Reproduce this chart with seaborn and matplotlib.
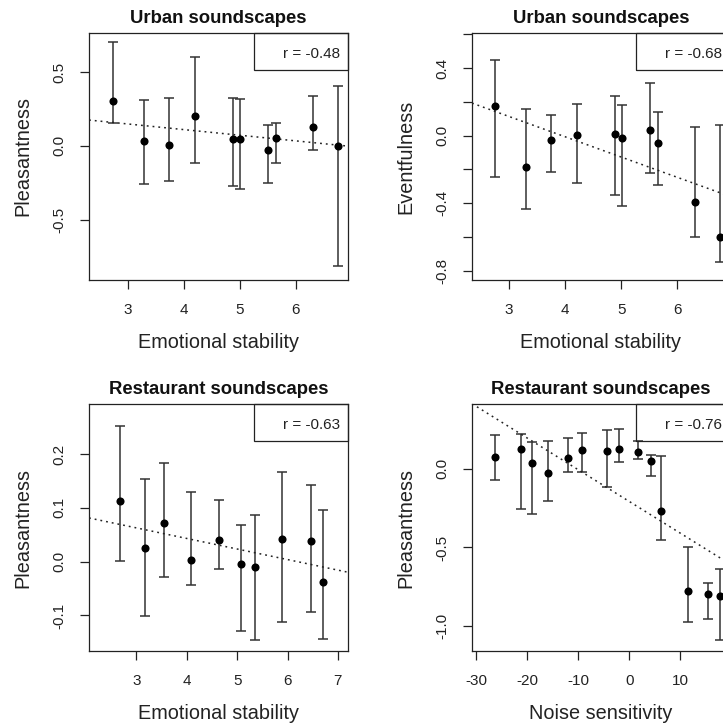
import numpy as np
import pandas as pd
import matplotlib
matplotlib.use("Agg")
import matplotlib.pyplot as plt
from matplotlib.patches import Rectangle
import seaborn as sns

# ---------------- data ----------------
# Urban soundscapes vs emotional stability
urban_es_x = [2.74, 3.29, 3.74, 4.20, 4.88, 5.00, 5.50, 5.64, 6.30, 6.75]
urban_pleas_y = [0.307, 0.032, 0.007, 0.202, 0.050, 0.050, -0.030, 0.055, 0.125, 0.000]
urban_pleas_lo = [0.152, -0.257, -0.241, -0.114, -0.270, -0.295, -0.250, -0.116, -0.030, -0.818]
urban_pleas_hi = [0.705, 0.310, 0.323, 0.602, 0.325, 0.316, 0.141, 0.152, 0.341, 0.407]

urban_es_x2 = [2.756, 3.30, 3.755, 4.21, 4.895, 5.01, 5.51, 5.66, 6.31, 6.77]
urban_event_y = [0.177, -0.189, -0.026, 0.004, 0.008, -0.016, 0.035, -0.047, -0.396, -0.603]
urban_event_lo = [-0.248, -0.437, -0.215, -0.282, -0.353, -0.418, -0.219, -0.292, -0.603, -0.751]
urban_event_hi = [0.449, 0.160, 0.124, 0.187, 0.236, 0.183, 0.311, 0.142, 0.049, 0.061]

# Restaurant soundscapes vs emotional stability
rest_es_x = [2.683, 3.172, 3.549, 4.09, 4.636, 5.076, 5.354, 5.90, 6.458, 6.709]
rest_pleas_y = [0.113, 0.025, 0.072, 0.003, 0.040, -0.004, -0.009, 0.042, 0.038, -0.038]
rest_pleas_lo = [0.001, -0.101, -0.029, -0.043, -0.014, -0.129, -0.145, -0.113, -0.093, -0.143]
rest_pleas_hi = [0.252, 0.154, 0.183, 0.129, 0.114, 0.069, 0.087, 0.166, 0.143, 0.096]

# Restaurant soundscapes vs noise sensitivity
rest_ns_x = [-26.36, -21.14, -19.12, -15.86, -11.94, -9.20, -4.37, -2.02, 1.76, 4.24,
             6.26, 11.55, 15.33, 17.75]
rest_ns_y = [0.076, 0.127, 0.036, -0.027, 0.070, 0.116, 0.112, 0.127, 0.103, 0.051,
             -0.268, -0.774, -0.793, -0.808]
rest_ns_lo = [-0.074, -0.255, -0.291, -0.205, -0.021, -0.025, -0.116, 0.042, 0.059, -0.046,
              -0.454, -0.973, -0.951, -1.089]
rest_ns_hi = [0.213, 0.219, 0.171, 0.173, 0.194, 0.228, 0.243, 0.251, 0.177, 0.089,
              0.078, -0.500, -0.726, -0.637]

titles = ["Urban soundscapes", "Urban soundscapes",
          "Restaurant soundscapes", "Restaurant soundscapes"]
xlabels = ["Emotional stability", "Emotional stability",
           "Emotional stability", "Noise sensitivity"]
ylabels = ["Pleasantness", "Eventfulness", "Pleasantness", "Pleasantness"]
r_labels = ["r = -0.48", "r = -0.68", "r = -0.63", "r = -0.76"]

# ---------------- style ----------------
sns.set_theme(style="ticks")
plt.rcParams['font.family'] = ['Liberation Sans', 'DejaVu Sans']

W, H = 723, 727
fig = plt.figure(figsize=(W / 100, H / 100), dpi=100)

def frac(left, right, top, bottom):
    return [left / W, (H - bottom) / H, (right - left) / W, (bottom - top) / H]

axes_rects = [frac(89, 348, 33, 280), frac(472, 730, 33, 280),
              frac(89, 348, 404, 651), frac(472, 730, 404, 651)]

panels = [
    (urban_es_x, urban_pleas_y, urban_pleas_lo, urban_pleas_hi,
     (2.31, 6.93), (-0.91, 0.766), [3, 4, 5, 6], [-0.5, 0.0, 0.5], None),
    (urban_es_x2, urban_event_y, urban_event_lo, urban_event_hi,
     (2.34, 6.94), (-0.855, 0.607), [3, 4, 5, 6],
     [-0.8, -0.6, -0.4, -0.2, 0.0, 0.2, 0.4, 0.6],
     ["-0.8", "", "-0.4", "", "0.0", "", "0.4", ""]),
    (rest_es_x, rest_pleas_y, rest_pleas_lo, rest_pleas_hi,
     (2.061, 7.2), (-0.166, 0.293), [3, 4, 5, 6, 7], [-0.1, 0.0, 0.1, 0.2], None),
    (rest_ns_x, rest_ns_y, rest_ns_lo, rest_ns_hi,
     (-30.78, 19.7), (-1.156, 0.409), [-30, -20, -10, 0, 10], [-1.0, -0.5, 0.0], None),
]

for i, (xs, ys, lo, hi, xlim, ylim, xt, yt, ytl) in enumerate(panels):
    ax = fig.add_axes(axes_rects[i])
    df = pd.DataFrame({"x": xs, "y": ys, "lo": lo, "hi": hi})
    ax.set_xlim(*xlim)
    ax.set_ylim(*ylim)

    # error bars
    yerr = np.vstack([df["y"] - df["lo"], df["hi"] - df["y"]])
    ax.errorbar(df["x"], df["y"], yerr=yerr, fmt="none", ecolor="#333333",
                elinewidth=1.1, capsize=3.3, capthick=1.1, zorder=2)
    # points
    sns.scatterplot(data=df, x="x", y="y", color="black", s=34, linewidth=0,
                    ax=ax, zorder=3)
    # regression line across whole axis
    sns.regplot(data=df, x="x", y="y", scatter=False, ci=None, truncate=False,
                ax=ax, line_kws=dict(color="#222222", lw=1.1,
                                     linestyle=(0, (1.2, 2.6))))
    ax.set_xlim(*xlim)
    ax.set_ylim(*ylim)

    ax.set_xticks(xt)
    ax.set_xticklabels([str(v) for v in xt])
    ax.set_yticks(yt)
    if ytl is None:
        ax.set_yticklabels([f"{v:.1f}" for v in yt])
    else:
        ax.set_yticklabels(ytl)

    ax.tick_params(direction="out", length=6.5, width=0.9, pad=10,
                   labelsize=11, colors="#222222")
    ax.tick_params(axis="y", labelrotation=90)
    for lbl in ax.get_yticklabels():
        lbl.set_va("center")
    for sp in ax.spines.values():
        sp.set_visible(True)
        sp.set_linewidth(0.9)
        sp.set_color("#222222")

    ax.set_xlabel(xlabels[i], fontsize=14.3, va="center", color="#222222")
    ax.set_ylabel(ylabels[i], fontsize=14.3, va="center", color="#222222")
    ax.xaxis.set_label_coords(0.5, -0.255)
    ax.yaxis.set_label_coords(-0.255, 0.5)
    ax.set_title(titles[i], fontsize=13.3, fontweight="bold", y=1.06, va="center",
                 pad=0, color="#111111")

    # r legend box
    ax.add_patch(Rectangle((0.637, 0.85), 0.363, 0.15, transform=ax.transAxes,
                           fill=False, edgecolor="#222222", lw=0.9, zorder=4,
                           clip_on=False))
    ax.text(0.969, 0.915, r_labels[i], transform=ax.transAxes, ha="right",
            va="center", fontsize=11, color="#222222", zorder=5)

fig.savefig("out.png", dpi=100)
